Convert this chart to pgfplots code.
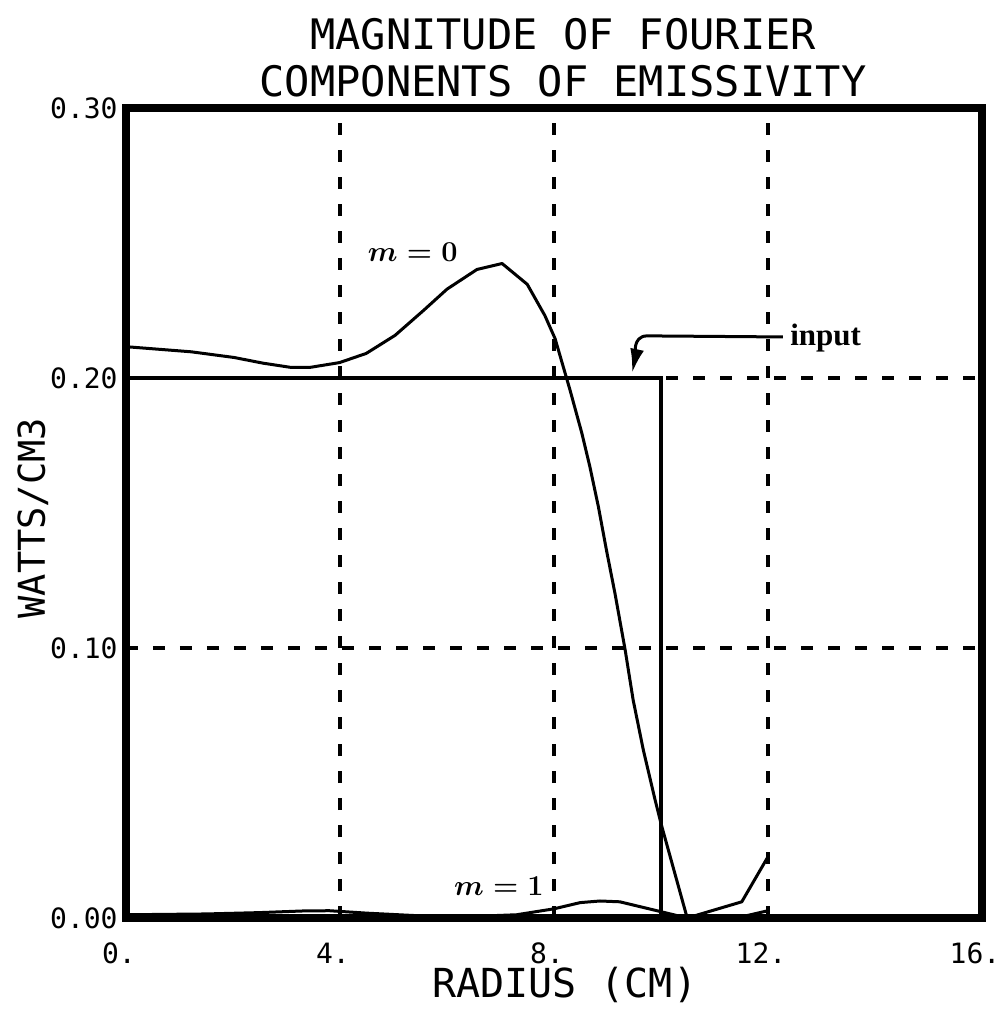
\documentclass[border=0pt]{standalone}
\usepackage{pgfplots}
\pgfplotsset{compat=1.18}
\usepackage{fontspec}
\usetikzlibrary{arrows.meta}
\newfontfamily\plotfont{DejaVu Sans Mono}
\newfontfamily\lblfont{Liberation Serif}
\begin{document}
\begin{tikzpicture}
\useasboundingbox (-63pt,-47.5pt) rectangle (437.5pt,459pt);
\begin{axis}[
  at={(0,0)}, anchor=south west,
  scale only axis, width=428pt, height=405pt,
  xmin=0, xmax=16, ymin=0, ymax=0.3,
  clip=false,
  axis line style={line width=3.8pt},
  xtick={0,4,8,12,16}, xticklabels={0.,4.,8.,12.,16.},
  ytick={0,0.1,0.2,0.3}, yticklabels={0.00,0.10,0.20,0.30},
  major tick length=0pt,
  xticklabel style={font=\fontsize{14pt}{15pt}\plotfont, anchor=base, yshift=-22.5pt, xshift=-3.5pt, inner sep=0pt},
  yticklabel style={font=\fontsize{14pt}{15pt}\plotfont, anchor=east, xshift=-4pt, inner sep=0pt},
  grid=major,
  major grid style={black, line width=1.6pt, dash pattern=on 6pt off 7.5pt},
]
% m = 0
\addplot[black, line width=1.5pt, line join=round] coordinates {
(0.0,0.2116) (1.22,0.2097) (2.02,0.2076) (2.56,0.2055) (3.09,0.2039) (3.43,0.2039)
(3.99,0.2057) (4.49,0.2091) (5.03,0.2158) (5.56,0.2250) (6.00,0.2329) (6.56,0.2402)
(7.03,0.2424) (7.50,0.2347) (7.83,0.2231) (8.02,0.2146) (8.30,0.1955) (8.52,0.1796)
(8.67,0.1672) (8.83,0.1523) (8.98,0.1363) (9.14,0.1202) (9.33,0.0993) (9.48,0.0807)
(9.67,0.0622) (9.89,0.0437) (10.0,0.035) (10.49,0.0) (11.51,0.006) (12.0,0.0227)
};
% m = 1
\addplot[black, line width=1.5pt, line join=round] coordinates {
(0.0,0.0012) (1.5,0.0015) (2.5,0.002) (3.3,0.0026) (3.8,0.0027) (4.5,0.0018)
(5.5,0.0008) (6.5,0.0006) (7.3,0.0012) (8.0,0.0034) (8.49,0.0057) (8.86,0.0063)
(9.23,0.006) (9.86,0.003) (10.49,0.0) (11.5,0.0004) (12.0,0.0027)
};
% input
\addplot[black, line width=1.7pt] coordinates {(0,0.2) (10,0.2) (10,0)};

\draw[line width=1.5pt, line join=round, -{Latex[length=12pt,width=7pt]}]
  (axis cs:12.28,0.2152) -- (axis cs:9.74,0.2156) to[out=180,in=78] (axis cs:9.46,0.2019);

\node[anchor=base, inner sep=0pt, font=\fontsize{15.5pt}{16pt}\selectfont\boldmath] at (axis cs:5.36,0.2433) {$m = 0$};
\node[anchor=base, inner sep=0pt, font=\fontsize{15.5pt}{16pt}\selectfont\boldmath] at (axis cs:6.97,0.0085) {$m = 1$};
\node[anchor=base west, inner sep=0pt, font=\fontsize{15.5pt}{16pt}\lblfont\bfseries] at (axis cs:12.41,0.2119) {input};

\node[anchor=base, inner sep=0pt, font=\fontsize{21pt}{22pt}\plotfont] at (axis cs:8.17,0.3215) {MAGNITUDE OF FOURIER};
\node[anchor=base, inner sep=0pt, font=\fontsize{21pt}{22pt}\plotfont] at (axis cs:8.17,0.3041) {COMPONENTS OF EMISSIVITY};
\node[anchor=base, inner sep=0pt, font=\fontsize{20pt}{21pt}\plotfont] at (axis cs:8.2,-0.0296) {RADIUS (CM)};
\node[anchor=base, rotate=90, inner sep=0pt, font=\fontsize{18.5pt}{19pt}\plotfont] at (axis cs:-1.514,0.1481) {WATTS/CM3};
\end{axis}
\end{tikzpicture}
\end{document}
